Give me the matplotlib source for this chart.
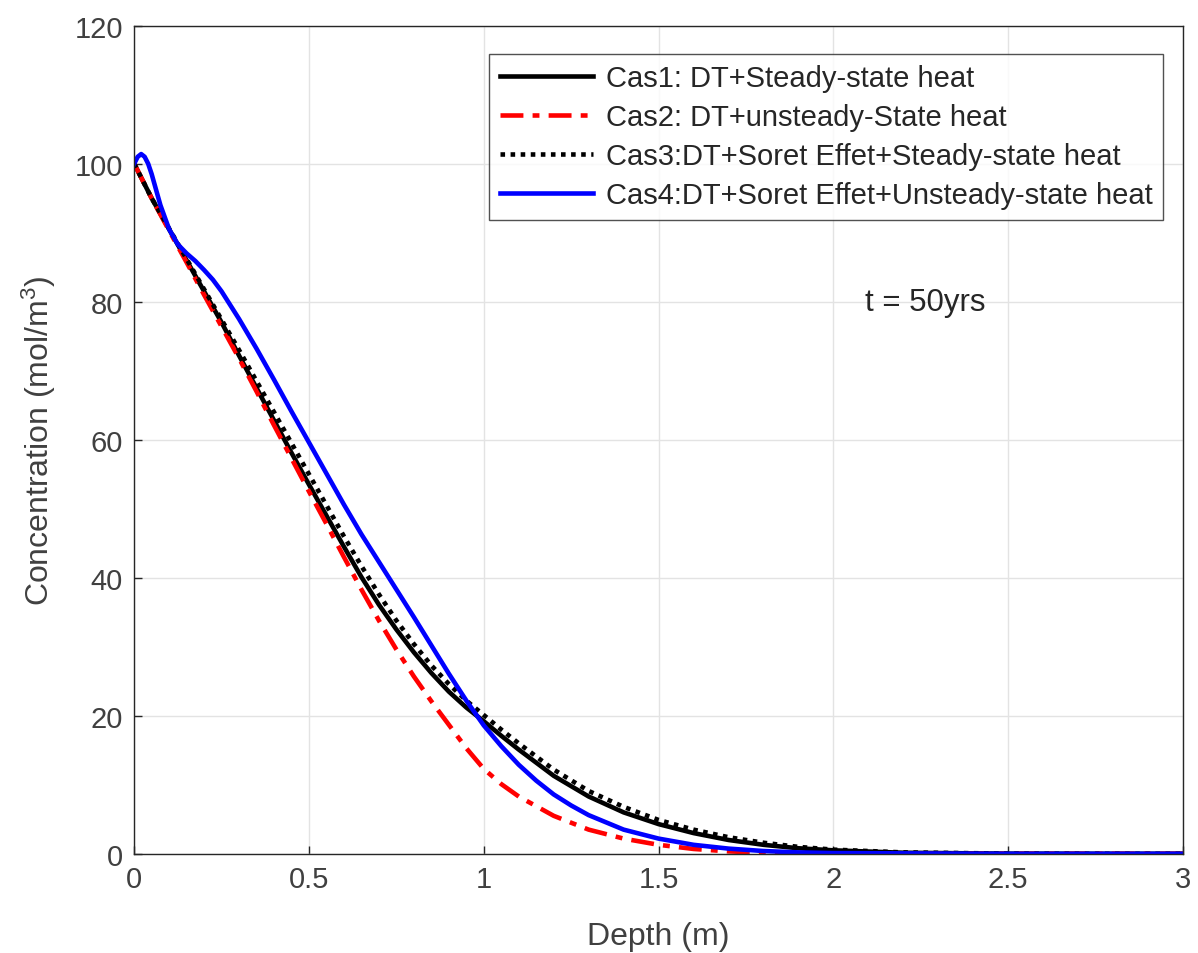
import matplotlib
matplotlib.use("Agg")
import matplotlib.pyplot as plt

plt.rcParams["font.family"] = ["Liberation Sans", "DejaVu Sans"]
plt.rcParams["mathtext.fontset"] = "custom"
plt.rcParams["mathtext.rm"] = "Liberation Sans"

# depth (m) and concentration (mol/m3)
depth_main = [0.0, 0.05, 0.1, 0.15, 0.2, 0.25, 0.3, 0.35, 0.4, 0.45, 0.5,
              0.55, 0.6, 0.65, 0.7, 0.75, 0.8, 0.85, 0.9, 0.95, 1.0,
              1.05, 1.1, 1.2, 1.3, 1.4, 1.5, 1.6, 1.7, 1.8, 1.9, 2.0,
              2.2, 2.5, 2.75, 3.0]

cas1 = [100, 95, 90.5, 86, 81.5, 77, 72.2, 67.5, 62.8, 58.1, 53.5,
        49, 44.5, 40.1, 36.1, 32.5, 29.2, 26.2, 23.5, 21.2, 19.2,
        17.1, 15.1, 11.3, 8.3, 6.0, 4.3, 3.0, 2.0, 1.3, 0.8, 0.5,
        0.15, 0.02, 0.0, 0.0]

cas2 = [100, 95, 90.3, 85.7, 81, 76.4, 71.8, 67, 62.1, 57.3, 52.5,
        47.8, 43, 38.3, 33.8, 29.6, 25.7, 22.1, 18.7, 15.3, 12.3,
        10.1, 8.3, 5.5, 3.5, 2.2, 1.3, 0.7, 0.35, 0.15, 0.06, 0.03,
        0.0, 0.0, 0.0, 0.0]

cas3 = [100, 95, 90.6, 86.2, 81.8, 77.4, 73, 68.5, 64, 59.5, 55,
        50.5, 46, 41.7, 37.6, 33.8, 30.4, 27.3, 24.6, 22.2, 20.1,
        18.0, 16.0, 12.2, 9.1, 6.8, 4.9, 3.5, 2.4, 1.6, 1.0, 0.6,
        0.2, 0.03, 0.0, 0.0]

depth_cas4 = [0.0, 0.01, 0.02, 0.03, 0.04, 0.05, 0.075, 0.1, 0.125, 0.15,
              0.175, 0.2, 0.225, 0.25, 0.3, 0.35, 0.4, 0.45, 0.5, 0.55,
              0.6, 0.65, 0.7, 0.75, 0.8, 0.85, 0.9, 0.95, 1.0, 1.05,
              1.1, 1.15, 1.2, 1.25, 1.3, 1.4, 1.5, 1.6, 1.7, 1.8,
              1.9, 2.0, 2.5, 3.0]
cas4 = [100, 101, 101.4, 101, 100, 98.5, 94, 90.5, 88.3, 87.0,
        85.9, 84.6, 83.2, 81.5, 77.5, 73.2, 68.7, 64.1, 59.6, 55.1,
        50.6, 46.3, 42.3, 38.3, 34.3, 30.2, 26.1, 22.2, 18.6, 15.6,
        12.9, 10.6, 8.6, 7.0, 5.6, 3.5, 2.2, 1.3, 0.75, 0.4,
        0.2, 0.1, 0.0, 0.0]

labels = ["Cas1: DT+Steady-state heat",
          "Cas2: DT+unsteady-State heat",
          "Cas3:DT+Soret Effet+Steady-state heat",
          "Cas4:DT+Soret Effet+Unsteady-state heat"]

fig = plt.figure(figsize=(11.98, 9.54), dpi=100)
ax = fig.add_axes([0.112, 0.104, 0.8755, 0.868])

ax.plot(depth_main, cas1, color="black", lw=3.3, label=labels[0])
ax.plot(depth_main, cas2, color="#ff0000", lw=3.3, dashes=(5, 2, 1.5, 2),
        label=labels[1])
ax.plot(depth_main, cas3, color="black", lw=3.3, dashes=(1, 1.2), label=labels[2])
ax.plot(depth_cas4, cas4, color="#0000ff", lw=3.3, label=labels[3])

ax.set_xlim(0, 3)
ax.set_ylim(0, 120)
ax.set_xticks([0, 0.5, 1, 1.5, 2, 2.5, 3])
ax.set_xticklabels(["0", "0.5", "1", "1.5", "2", "2.5", "3"])
ax.set_yticks(range(0, 121, 20))

ax.grid(True, color="#e3e3e3", lw=1)
ax.set_axisbelow(True)
for s in ax.spines.values():
    s.set_color("#262626")
    s.set_linewidth(1)
ax.tick_params(direction="in", length=6, width=1, color="#262626",
               labelsize=21, labelcolor="#404040", top=False, right=False, pad=8)

ax.set_xlabel("Depth (m)", fontsize=23, color="#404040", labelpad=20)
ax.set_ylabel("Concentration (mol/m$\\mathregular{^3}$)", fontsize=23,
              color="#404040", labelpad=12)

ax.text(2.09, 80, "t = 50yrs", fontsize=22.5, color="#262626", va="center")

leg = ax.legend(loc="upper right", bbox_to_anchor=(0.981, 0.966),
                fontsize=21, frameon=True, fancybox=False,
                edgecolor="#262626", handlelength=3.2, handletextpad=0.45,
                labelspacing=0.38, borderpad=0.35, borderaxespad=0)
leg.get_frame().set_linewidth(1)
for t in leg.get_texts():
    t.set_color("#262626")

fig.savefig("out.png", dpi=100)
